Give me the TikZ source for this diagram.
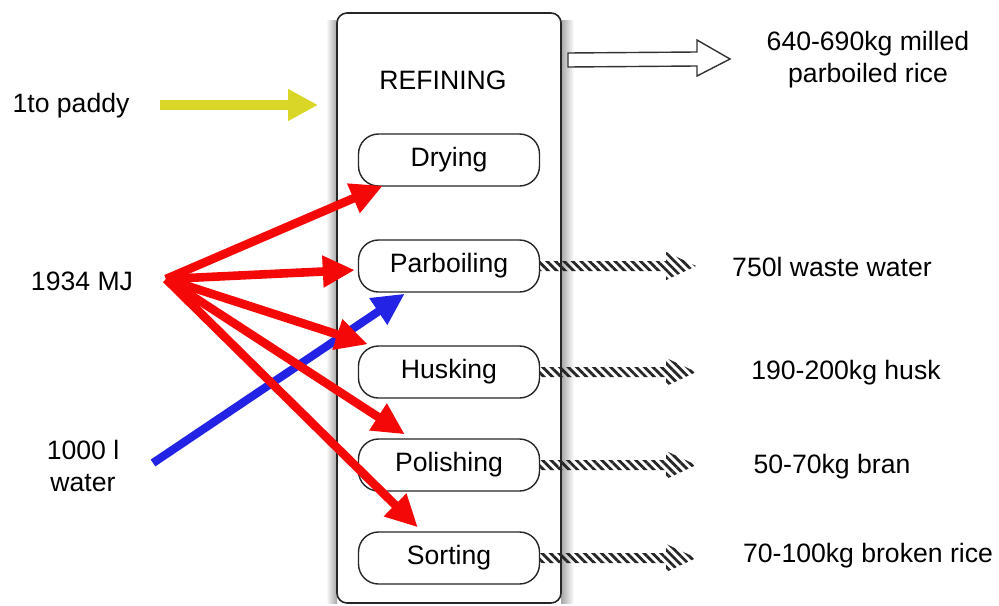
\documentclass[tikz,border=0pt]{standalone}
\usepackage{fontspec}
\setmainfont{Liberation Sans}
\usetikzlibrary{arrows.meta,calc,patterns.meta}

\definecolor{flowred}{RGB}{245,8,8}
\definecolor{flowblue}{RGB}{35,35,230}
\definecolor{flowyellow}{RGB}{218,214,40}

\tikzset{
  stepbox/.style={draw=black!85, line width=0.7pt, rounded corners=10pt,
    minimum width=90.5pt, minimum height=26pt, inner sep=0pt},
  txt/.style={align=center, inner sep=0pt},
  energy/.style={draw=flowred, line width=4.3pt, -{Triangle[length=16pt,width=15pt]}},
  waterin/.style={draw=flowblue, line width=4.1pt, -{Triangle[length=16pt,width=15pt]}},
  paddyin/.style={draw=flowyellow, line width=5pt, -{Triangle[length=15pt,width=15pt]}},
  hatch/.style={pattern={Lines[angle=-45,distance=3pt,line width=1.4pt]}, pattern color=black!85}
}

% hatched waste arrow: from #1 to #2 (pixel units)
\newcommand{\wastearrow}[2]{%
  \fill[hatch] ($(#1)+(0,-5)$) -- ($(#2)+(-30,-5)$) -- ($(#2)+(-30,-14)$) -- (#2)
    -- ($(#2)+(-30,14)$) -- ($(#2)+(-30,5)$) -- ($(#1)+(0,5)$) -- cycle;}

\begin{document}
\begin{tikzpicture}[x=0.5pt, y=-0.5pt, font=\fontsize{13.3}{16}\selectfont]

        \useasboundingbox (0,0) rectangle (999,605);

        % soft shadow round the refining box
        \shade[left color=white, right color=black!35] (326,20) rectangle (337,603);
        \shade[left color=black!35, right color=white] (561,20) rectangle (574,603);

        % Refining box and its steps
        \node[draw=black!85, line width=0.8pt, rounded corners=5pt, fill=white,
              minimum width=112pt, minimum height=295pt, inner sep=0pt] (refbox) at (449,308) {};
        \node[txt] (refining) at (443,80) {REFINING};

        \node[stepbox] (dry)  at (449,160) {Drying};
        \node[stepbox] (parb) at (449,266) {Parboiling};
        \node[stepbox] (husk) at (449,372) {Husking};
        \node[stepbox] (pol)  at (449,465) {Polishing};
        \node[stepbox] (sort) at (449,558) {Sorting};

        % Inputs
        \node[txt] (paddy) at (71,106) {1to paddy};
        \node[txt] (mj) at (82,281) {1934 MJ};
        \node[txt] (water) at (83,466) {1000 l\\water};

        \coordinate (paddysrc) at (160,105);
        \coordinate (paddyend) at (318,105);
        \coordinate (mjsrc) at (166,279);
        \coordinate (watersrc) at (153,463);

        \draw[paddyin] (paddysrc) -- (paddyend);
        \draw[waterin] (watersrc) -- ($(parb.south west)+(47,1)$);

        \draw[energy] (mjsrc) -- ($(dry.south west)+(25,-1)$);
        \draw[energy] (mjsrc) -- ($(parb.west)+(-3,4)$);
        \draw[energy] (mjsrc) -- ($(husk.north west)+(10,-1)$);
        \draw[energy] (mjsrc) -- ($(pol.north west)+(47,-4)$);
        \draw[energy] (mjsrc) -- ($(sort.north west)+(60,-4)$);

        % Outputs
        \node[txt] (rice) at (868,60) {640-690kg milled\\parboiled rice};
        \node[txt] (wastewater) at (832,267) {750l waste water};
        \node[txt] (husks) at (846,373) {190-200kg husk};
        \node[txt] (bran) at (832,467) {50-70kg bran};
        \node[txt] (broken) at (868,556) {70-100kg broken rice};

        \coordinate (ricestart) at (568,60);
        \coordinate (riceend) at (730,59);
        \draw[line width=0.7pt, draw=black!80, fill=white]
          ($(ricestart)+(0,-7)$) -- ($(riceend)+(-33,-7)$) -- ($(riceend)+(-33,-19)$) -- (riceend)
          -- ($(riceend)+(-33,17)$) -- ($(riceend)+(-33,7)$) -- ($(ricestart)+(0,7)$) -- cycle;

        \wastearrow{parb.east}{$(parb.east)+(156,0)$}
        \wastearrow{husk.east}{$(husk.east)+(156,0)$}
        \wastearrow{pol.east}{$(pol.east)+(156,0)$}
        \wastearrow{sort.east}{$(sort.east)+(156,0)$}

    \end{tikzpicture}
\end{document}
